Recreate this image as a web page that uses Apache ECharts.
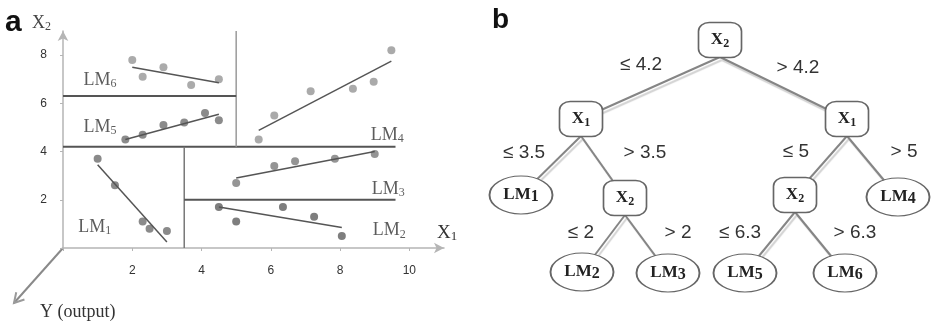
<!DOCTYPE html>
<html>
<head>
<meta charset="utf-8">
<script src="https://cdn.jsdelivr.net/npm/echarts@6/dist/echarts.min.js"></script>
<style>
html, body { margin: 0; padding: 0; background: #fff; }
#main { width: 931px; height: 322px; }
</style>
</head>
<body>
<div id="main"></div>
<script>
// panel a : sample points (X1, X2) of each local model region
var lm1Pts = [[1.0, 3.7], [1.5, 2.6], [2.3, 1.1], [2.5, 0.8], [3.0, 0.7]];
var lm2Pts = [[4.5, 1.7], [5.0, 1.1], [6.35, 1.7], [7.25, 1.3], [8.05, 0.5]];
var lm3Pts = [[5.0, 2.7], [6.1, 3.4], [6.7, 3.6], [7.85, 3.7], [9.0, 3.9]];
var lm4Pts = [[5.65, 4.5], [6.1, 5.5], [7.15, 6.5], [8.37, 6.6], [8.97, 6.9], [9.48, 8.2]];
var lm5Pts = [[1.8, 4.5], [2.3, 4.7], [2.9, 5.1], [3.5, 5.2], [4.1, 5.6], [4.5, 5.3]];
var lm6Pts = [[2.0, 7.8], [2.3, 7.1], [2.9, 7.5], [3.7, 6.76], [4.5, 7.0]];

// fitted line of each local model (start, end)
var lm1Fit = [[1.0, 3.45], [3.0, 0.25]];
var lm2Fit = [[4.5, 1.7], [8.05, 0.85]];
var lm3Fit = [[5.0, 2.9], [9.0, 4.0]];
var lm4Fit = [[5.65, 4.88], [9.48, 7.75]];
var lm5Fit = [[1.8, 4.5], [4.5, 5.55]];
var lm6Fit = [[2.0, 7.5], [4.5, 6.85]];

// split boundaries
var splitX2at42 = [[0, 4.2], [9.6, 4.2]];
var splitX1at35 = [[3.5, 0], [3.5, 4.2]];
var splitX2at2 = [[3.5, 2], [9.6, 2]];
var splitX1at5 = [[5, 4.2], [5, 9]];
var splitX2at63 = [[0, 6.3], [5, 6.3]];

var lmNames = ['LM1', 'LM2', 'LM3', 'LM4', 'LM5', 'LM6'];
var xTicks = [2, 4, 6, 8, 10];
var yTicks = [2, 4, 6, 8];

// panel b : model tree
var treeNodes = ['X2', 'X1', 'X1', 'LM1', 'X2', 'X2', 'LM4', 'LM2', 'LM3', 'LM5', 'LM6'];
var treeEdges = [
  [0, 1, '≤ 4.2'], [0, 2, '> 4.2'],
  [1, 3, '≤ 3.5'], [1, 4, '> 3.5'],
  [2, 5, '≤ 5'], [2, 6, '> 5'],
  [4, 7, '≤ 2'], [4, 8, '> 2'],
  [5, 9, '≤ 6.3'], [5, 10, '> 6.3']
];

// ---- layout (kept apart from the data) ----
var lmLabelAt = [[0.92, 0.88], [9.42, 0.72], [9.39, 2.45], [9.36, 4.69], [1.07, 5.02], [1.07, 6.96]];
var nodeXY = [[720, 40], [581, 119], [847, 119], [521, 195], [625, 198], [795, 195],
  [898, 197], [582, 272], [668, 273], [745, 273], [845, 273]];
var edgeLabelXY = [[641, 65], [798, 68], [524, 153], [645, 153], [796, 152], [904, 152],
  [581, 233], [678, 233], [740, 233], [855, 233]];
var boxHalfH = 17;

var serif = 'Liberation Serif';
var sans = 'Liberation Sans';

function subText(name, big, small) {
  var m = name.match(/^([A-Z]+)(\d)$/);
  return '{' + big + '|' + m[1] + '}{' + small + '|' + m[2] + '}';
}

var series = [];

var ptColors = ['#6d6d6d', '#5e5e5e', '#7a7a7a', '#959595', '#6e6e6e', '#969696'];
[lm1Pts, lm2Pts, lm3Pts, lm4Pts, lm5Pts, lm6Pts].forEach(function (pts, i) {
  series.push({
    type: 'scatter', data: pts, symbolSize: 8, z: 3,
    itemStyle: { color: ptColors[i] }
  });
});

[lm1Fit, lm2Fit, lm3Fit, lm4Fit, lm5Fit, lm6Fit].forEach(function (fit) {
  series.push({
    type: 'line', data: fit, showSymbol: false, z: 4,
    lineStyle: { color: '#555', width: 1.5 }
  });
});

var splits = [
  [splitX2at42, '#555', 2], [splitX1at35, '#777', 1.5], [splitX2at2, '#555', 2],
  [splitX1at5, '#9a9a9a', 1.5], [splitX2at63, '#555', 2]
];
splits.forEach(function (s) {
  series.push({
    type: 'line', data: s[0], showSymbol: false, z: 2,
    lineStyle: { color: s[1], width: s[2] }
  });
});

series.push({
  type: 'scatter', symbolSize: 0, z: 5,
  data: lmNames.map(function (n, i) { return { name: n, value: lmLabelAt[i] }; }),
  label: {
    show: true, position: 'inside',
    formatter: function (p) { return subText(p.name, 'm', 's'); },
    rich: {
      m: { fontFamily: serif, fontSize: 18, color: '#333', lineHeight: 20 },
      s: { fontFamily: serif, fontSize: 12, color: '#333', verticalAlign: 'bottom', lineHeight: 8 }
    }
  }
});

// tree as a graph on a hidden pixel grid
var gNodes = [];
treeNodes.forEach(function (n, i) {
  var isBox = n.charAt(0) === 'X';
  gNodes.push({
    id: 'n' + i, name: n, value: nodeXY[i],
    symbol: isBox ? 'roundRect' : 'circle',
    symbolSize: isBox ? [43, 35] : [63, 38],
    itemStyle: { color: '#fff', borderColor: '#666', borderWidth: 1.5 },
    label: {
      show: true, position: 'inside',
      formatter: isBox ? subText(n, 'b', 's') : subText(n, 'b', 'd'),
      rich: {
        b: { fontFamily: serif, fontWeight: 'bold', fontSize: 17, color: '#222', lineHeight: 20 },
        s: { fontFamily: serif, fontWeight: 'bold', fontSize: 12, color: '#222', verticalAlign: 'bottom', lineHeight: 9 },
        d: { fontFamily: serif, fontWeight: 'bold', fontSize: 16, color: '#222', verticalAlign: 'bottom', lineHeight: 16 }
      }
    }
  });
});
// anchors at the bottom of each decision box
var parents = {};
treeEdges.forEach(function (e) { parents[e[0]] = true; });
Object.keys(parents).forEach(function (p) {
  gNodes.push({
    id: 'a' + p, name: '', value: [nodeXY[p][0], nodeXY[p][1] + boxHalfH],
    symbolSize: 1, itemStyle: { color: 'rgba(0,0,0,0)' }
  });
});
// edge condition labels
treeEdges.forEach(function (e, i) {
  gNodes.push({
    id: 'e' + i, name: e[2], value: edgeLabelXY[i],
    symbolSize: 1, itemStyle: { color: 'rgba(0,0,0,0)' },
    label: { show: true, position: 'inside', formatter: '{b}', fontFamily: sans, fontSize: 19, color: '#333' }
  });
});
var gLinks = treeEdges.map(function (e) {
  return { source: 'a' + e[0], target: 'n' + e[1] };
});

series.push({
  type: 'graph', coordinateSystem: 'cartesian2d', xAxisIndex: 1, yAxisIndex: 1,
  layout: 'none', data: gNodes, links: gLinks, z: 3,
  lineStyle: {
    color: '#858585', width: 2, opacity: 1, curveness: 0,
    shadowColor: '#d2d2d2', shadowBlur: 1, shadowOffsetX: 2, shadowOffsetY: 3
  },
  emphasis: { disabled: true }
});

// diagonal Y axis (output) arrow
var o = [63, 248], tip = [14, 303];
var dx = o[0] - tip[0], dy = o[1] - tip[1], len = Math.sqrt(dx * dx + dy * dy);
var ux = dx / len, uy = dy / len;
function arm(sign) {
  var a = sign * Math.PI / 6, c = Math.cos(a), s = Math.sin(a);
  return [tip[0] + 11 * (ux * c - uy * s), tip[1] + 11 * (ux * s + uy * c)];
}

var option = {
  animation: false,
  grid: [
    { left: 63, top: 31, width: 381, height: 217 },
    { left: 480, top: 0, width: 451, height: 322 }
  ],
  xAxis: [{
    type: 'value', min: 0, max: 11, interval: 2, gridIndex: 0,
    splitLine: { show: false },
    axisLine: { lineStyle: { color: '#b5b5b5', width: 1.5 }, symbol: ['none', 'arrow'], symbolSize: [8, 10] },
    axisTick: { show: true, length: 3, lineStyle: { color: '#b5b5b5' } },
    axisLabel: {
      margin: 17, color: '#333', fontFamily: sans, fontSize: 12, showMaxLabel: false,
      formatter: function (v) { return xTicks.indexOf(v) >= 0 ? v : ''; }
    }
  }, {
    type: 'value', min: 480, max: 931, gridIndex: 1, show: false
  }],
  yAxis: [{
    type: 'value', min: 0, max: 9, interval: 2, gridIndex: 0,
    splitLine: { show: false },
    axisLine: { lineStyle: { color: '#b5b5b5', width: 1.5 }, symbol: ['none', 'arrow'], symbolSize: [8, 10] },
    axisTick: { show: true, length: 3, lineStyle: { color: '#b5b5b5' } },
    axisLabel: {
      margin: 16, color: '#333', fontFamily: sans, fontSize: 12, showMaxLabel: false,
      formatter: function (v) { return yTicks.indexOf(v) >= 0 ? v : ''; }
    }
  }, {
    type: 'value', min: 0, max: 322, inverse: true, gridIndex: 1, show: false
  }],
  graphic: [
    { type: 'text', left: 5, top: 8, style: { text: 'a', font: 'bold 30px ' + sans, fill: '#111' } },
    { type: 'text', left: 492, top: 6, style: { text: 'b', font: 'bold 28px ' + sans, fill: '#111' } },
    {
      type: 'text', left: 32, top: 14, style: {
        text: '{m|X}{s|2}', rich: {
          m: { fontFamily: serif, fontSize: 18, fill: '#444', lineHeight: 20 },
          s: { fontFamily: serif, fontSize: 12, fill: '#444', verticalAlign: 'bottom', lineHeight: 8 }
        }
      }
    },
    {
      type: 'text', left: 437, top: 224, style: {
        text: '{m|X}{s|1}', rich: {
          m: { fontFamily: serif, fontSize: 19, fill: '#333', lineHeight: 20 },
          s: { fontFamily: serif, fontSize: 13, fill: '#333', verticalAlign: 'bottom', lineHeight: 8 }
        }
      }
    },
    { type: 'text', left: 40, top: 303, style: { text: 'Y (output)', font: '18px ' + serif, fill: '#333' } },
    { type: 'polyline', shape: { points: [o, tip] }, style: { stroke: '#8a8a8a', lineWidth: 2, fill: null } },
    { type: 'polyline', shape: { points: [arm(1), tip, arm(-1)] }, style: { stroke: '#9a9a9a', lineWidth: 2, fill: null } }
  ],
  series: series
};

var chart = echarts.init(document.getElementById('main'));
chart.setOption(option);
</script>
</body>
</html>
